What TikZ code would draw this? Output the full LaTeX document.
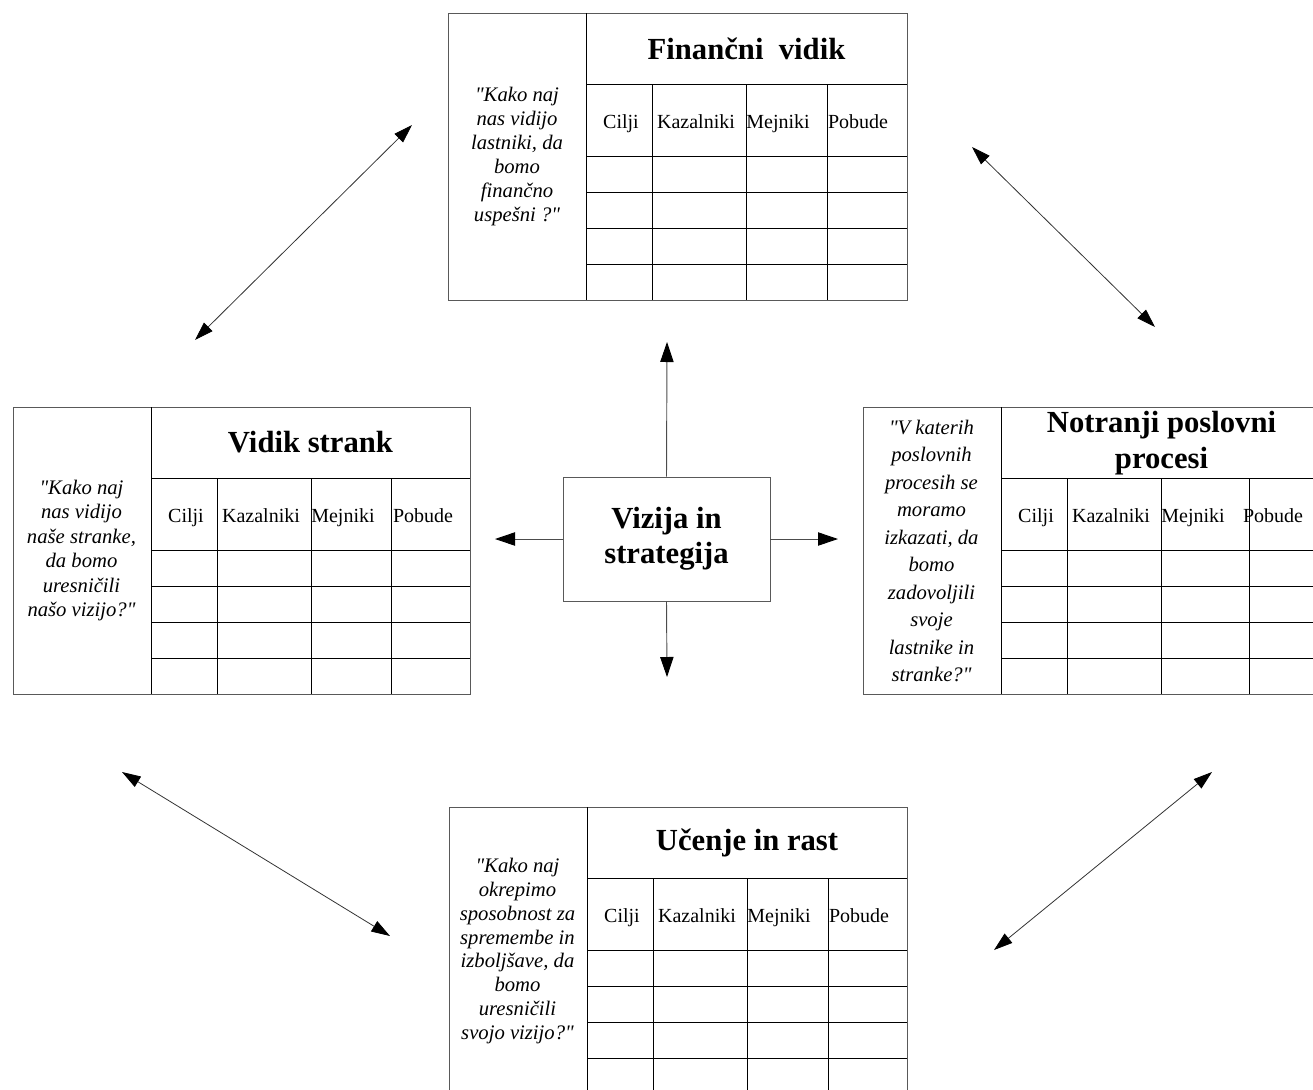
\documentclass[tikz,border=0pt]{standalone}
\usepackage{fontspec}
\setmainfont{Liberation Serif}[Ligatures=TeXOff]
\usetikzlibrary{arrows.meta}

\tikzset{
  okvir/.style={draw=black!65, line width=0.7pt},
  mreza/.style={draw=black, line width=0.6pt},
  naslov/.style={font=\fontsize{23}{27.5}\selectfont\bfseries, align=center, inner sep=0pt},
  vprasanje/.style={font=\fontsize{15.5}{18}\selectfont\itshape, align=center, inner sep=0pt},
  glava/.style={font=\fontsize{15}{18}\selectfont, inner sep=0pt, anchor=base},
  puscica/.style={draw=black!70, line width=0.7pt,
    -{Triangle[length=15pt,width=10pt,color=black]}},
  dvojna/.style={draw=black!80, line width=0.6pt,
    {Triangle[length=14pt,width=9pt,color=black]}-{Triangle[length=14pt,width=9pt,color=black]}}
}

% grid of one perspective: #1 prefix, #2 width, #3 offset of last column line
\newcommand{\vidiktabela}[3]{%
  \draw[okvir] (0,0) rectangle (#2,287);
  \draw[mreza] (138,0) -- (138,287);
  \draw[mreza] (138,71) -- (#2,71);
  \foreach \y in {143,179,215,251}
    \draw[mreza] (138,\y) -- (#2,\y);
  \foreach \x in {66,160,#3}
    \draw[mreza] (138+\x,71) -- (138+\x,287);
  \foreach \lbl/\x in {Cilji/35,Kazalniki/110,Mejniki/192,Pobude/272}
    \node[glava] (#1-\lbl) at (138+\x,115) {\lbl};
}

\begin{document}
\begin{tikzpicture}[x=0.75pt, y=-0.75pt]
  \useasboundingbox (0,0) rectangle (1313,1089);
  \clip (0,0) rectangle (1313,1089);

  % Financni vidik (top)
  \begin{scope}[shift={(448,13)}]
    \vidiktabela{fin}{459}{241}
    \node[naslov] (fin-naslov) at (298.5,35.5) {Finančni\ \ vidik};
    \node[vprasanje] (fin-vpr) at (69,143.5)
      {"Kako naj\\nas vidijo\\lastniki, da\\bomo\\finančno\\uspešni ?"};
  \end{scope}

  % Vidik strank (left)
  \begin{scope}[shift={(13,407)}]
    \vidiktabela{str}{457}{240}
    \node[naslov] (str-naslov) at (297.5,35.5) {Vidik strank};
    \node[vprasanje, font=\fontsize{15.5}{18.4}\selectfont\itshape] (str-vpr) at (68.5,143.5)
      {"Kako naj\\nas vidijo\\naše stranke,\\da bomo\\uresničili\\našo vizijo?"};
  \end{scope}

  % Notranji poslovni procesi (right)
  \begin{scope}[shift={(863,407)}]
    \vidiktabela{pro}{459}{248}
    \node[naslov] (pro-naslov) at (298.5,36) {Notranji poslovni\\procesi};
    \node[vprasanje, font=\fontsize{15.5}{20.6}\selectfont\itshape] (pro-vpr) at (68.5,144)
      {"V katerih\\poslovnih\\procesih se\\moramo\\izkazati, da\\bomo\\zadovoljili\\svoje\\lastnike in\\stranke?"};
  \end{scope}

  % Ucenje in rast (bottom)
  \begin{scope}[shift={(449,807)}]
    \vidiktabela{uce}{458}{241}
    \node[naslov] (uce-naslov) at (298,35.5) {Učenje in rast};
    \node[vprasanje, font=\fontsize{15.5}{17.9}\selectfont\itshape] (uce-vpr) at (68.5,144)
      {"Kako naj\\okrepimo\\sposobnost za\\spremembe in\\izboljšave, da\\bomo\\uresničili\\svojo vizijo?"};
  \end{scope}

  % Vizija in strategija (centre)
  \node[okvir, naslov, font=\fontsize{23}{26}\selectfont\bfseries,
        minimum width=155.25pt, minimum height=93pt] (vizija) at (666.5,539)
    {Vizija in\\strategija};

  % free ends of the arrows
  \coordinate (v-gor) at (667,342);
  \coordinate (v-dol) at (667,677);
  \coordinate (v-levo) at (495,539);
  \coordinate (v-desno) at (838,539);
  \draw[puscica] (vizija.north) -- (v-gor);
  \draw[puscica] (vizija.south) -- (v-dol);
  \draw[puscica] (vizija.west) -- (v-levo);
  \draw[puscica] (vizija.east) -- (v-desno);

  % links between perspectives
  \coordinate (sl-a) at (195,340);  \coordinate (sl-b) at (412,125);
  \coordinate (sd-a) at (972,147);  \coordinate (sd-b) at (1155,327);
  \coordinate (jl-a) at (122,772);  \coordinate (jl-b) at (390,936);
  \coordinate (jd-a) at (1212,772); \coordinate (jd-b) at (994,950);
  \draw[dvojna] (sl-a) -- (sl-b);
  \draw[dvojna] (sd-a) -- (sd-b);
  \draw[dvojna] (jl-a) -- (jl-b);
  \draw[dvojna] (jd-a) -- (jd-b);
\end{tikzpicture}
\end{document}
